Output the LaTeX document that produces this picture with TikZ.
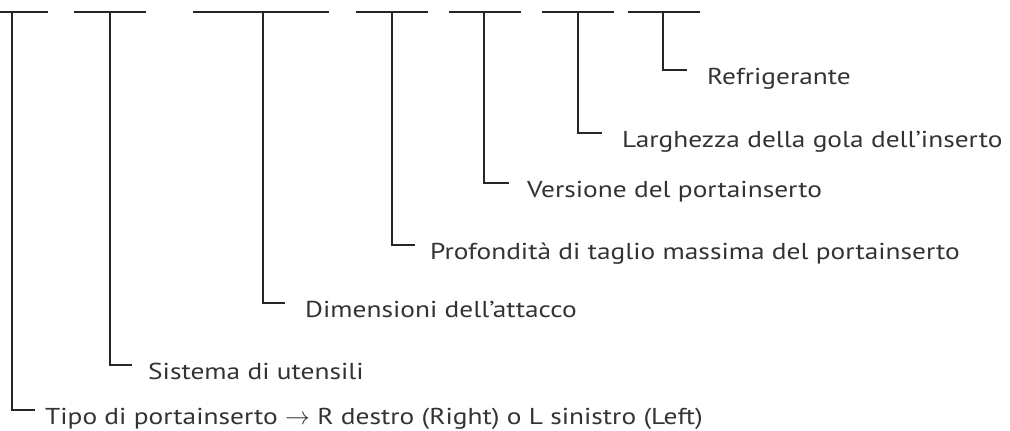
\documentclass[tikz,border=0pt]{standalone}
\usepackage{fontspec}
\setmainfont{PT Sans}[FakeStretch=1.19]
\begin{document}
\begin{tikzpicture}[x=1pt,y=-1pt,
  bar/.style={line width=2.6pt,draw=black!85},
  lead/.style={line width=2.4pt,draw=black!85},
  lbl/.style={anchor=base west,inner sep=0pt,font=\fontsize{23}{27}\selectfont,text=black!80}]
\useasboundingbox (0,0) rectangle (1010,431);
% bars
\coordinate (a1) at (0,12);   \coordinate (b1) at (48,12);
\coordinate (a2) at (74,12);  \coordinate (b2) at (146,12);
\coordinate (a3) at (193,12); \coordinate (b3) at (329,12);
\coordinate (a4) at (356,12); \coordinate (b4) at (428,12);
\coordinate (a5) at (449,12); \coordinate (b5) at (521,12);
\coordinate (a6) at (542,12); \coordinate (b6) at (614,12);
\coordinate (a7) at (628,12); \coordinate (b7) at (700,12);
\foreach \i in {1,...,7} {\draw[bar] (a\i) -- (b\i);}
% vertical tops
\coordinate (v1) at (12,12);
\coordinate (v2) at (110,12);
\coordinate (v3) at (263,12);
\coordinate (v4) at (392,12);
\coordinate (v5) at (484,12);
\coordinate (v6) at (578,12);
\coordinate (v7) at (663,12);
% labels
\node[lbl] (t7) at (707,84) {Refrigerante};
\node[lbl] (t6) at (622,147) {Larghezza della gola dell'inserto};
\node[lbl] (t5) at (527,197) {Versione del portainserto};
\node[lbl] (t4) at (430,259) {Profondità di taglio massima del portainserto};
\node[lbl] (t3) at (305,317) {Dimensioni dell'attacco};
\node[lbl] (t2) at (148,379) {Sistema di utensili};
\node[lbl] (t1) at (45,424) {Tipo di portainserto {\fontsize{27}{27}\selectfont$\mathbf{\rightarrow}$} R destro (Right) o L sinistro (Left)};
% leaders
\foreach \i/\g in {7/20,6/20,5/18,4/15,3/20,2/16,1/10} {
  \draw[lead] (v\i) |- ([xshift=-\g pt,yshift=14pt]t\i.base west);
}
\end{tikzpicture}
\end{document}
